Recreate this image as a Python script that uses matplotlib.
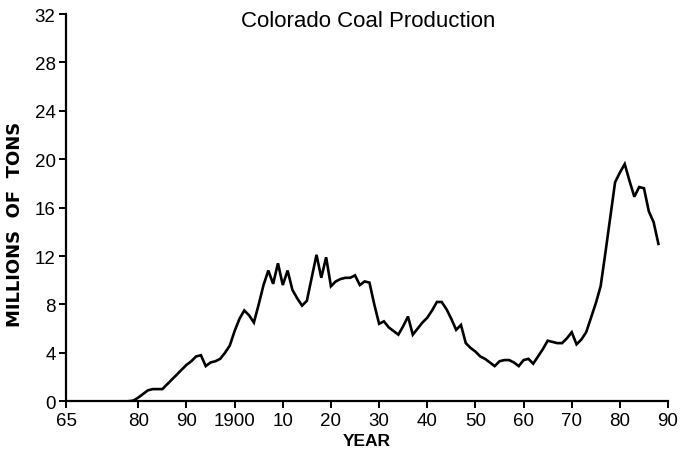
import numpy as np
import matplotlib
matplotlib.use('Agg')
import matplotlib.pyplot as plt

plt.rcParams['font.family'] = ['Liberation Sans', 'DejaVu Sans']

# annual production, millions of tons
years = list(range(1878, 1989))
production = [
    0.0, 0.05, 0.3, 0.6, 0.9, 1.0, 1.0, 1.0, 1.4, 1.8,            # 1878-1887
    2.2, 2.6, 3.0, 3.3, 3.7, 3.8, 2.9, 3.2, 3.3, 3.5,             # 1888-1897
    4.0, 4.6, 5.8, 6.8, 7.5, 7.1, 6.5, 8.0, 9.6, 10.8,            # 1898-1907
    9.7, 11.4, 9.6, 10.8, 9.2, 8.5, 7.9, 8.3, 10.2, 12.1,         # 1908-1917
    10.2, 11.9, 9.5, 9.9, 10.1, 10.2, 10.2, 10.4, 9.6, 9.9,       # 1918-1927
    9.8, 8.0, 6.4, 6.6, 6.1, 5.8, 5.5, 6.2, 7.0, 5.5,             # 1928-1937
    6.0, 6.5, 6.9, 7.5, 8.2, 8.2, 7.6, 6.8, 5.9, 6.3,             # 1938-1947
    4.8, 4.4, 4.1, 3.7, 3.5, 3.2, 2.9, 3.3, 3.4, 3.4,             # 1948-1957
    3.2, 2.9, 3.4, 3.5, 3.1, 3.7, 4.3, 5.0, 4.9, 4.8,             # 1958-1967
    4.8, 5.2, 5.7, 4.7, 5.1, 5.7, 6.9, 8.1, 9.5, 12.3,            # 1968-1977
    15.2, 18.1, 18.9, 19.6, 18.2, 16.9, 17.7, 17.6, 15.7, 14.8,   # 1978-1987
    13.0,                                                         # 1988
]

xticks = [1865, 1880, 1890, 1900, 1910, 1920, 1930, 1940, 1950, 1960, 1970, 1980, 1990]
xticklabels = ['65', '80', '90', '1900', '10', '20', '30', '40', '50', '60', '70', '80', '90']
yticks = list(range(0, 33, 4))

fig = plt.figure(figsize=(6.81, 4.56), dpi=100)
ax = fig.add_axes([0.097, 0.118, 0.884, 0.849])

ax.plot(years, production, color='black', lw=1.9, solid_joinstyle='miter')

ax.set_xlim(1865, 1990)
ax.set_ylim(0, 32)
ax.set_xticks(xticks)
ax.set_xticklabels(xticklabels)
ax.set_yticks(yticks)

for s in ['top', 'right']:
    ax.spines[s].set_visible(False)
for s in ['left', 'bottom']:
    ax.spines[s].set_linewidth(1.6)
    ax.spines[s].set_color('black')

ax.tick_params(axis='both', direction='out', length=5, width=1.4,
               labelsize=13.5, colors='black', pad=2.5)

ax.set_xlabel('YEAR', fontsize=12.5, fontweight='bold', labelpad=3)
ax.set_ylabel('MILLIONS  OF  TONS', fontsize=13, fontweight='bold',
              family=['DejaVu Sans'])
ax.yaxis.set_label_coords(-0.07, 0.46)

fig.text(0.54, 0.953, 'Colorado Coal Production', ha='center', va='center',
         fontsize=16)

fig.savefig('out.png', dpi=100)
